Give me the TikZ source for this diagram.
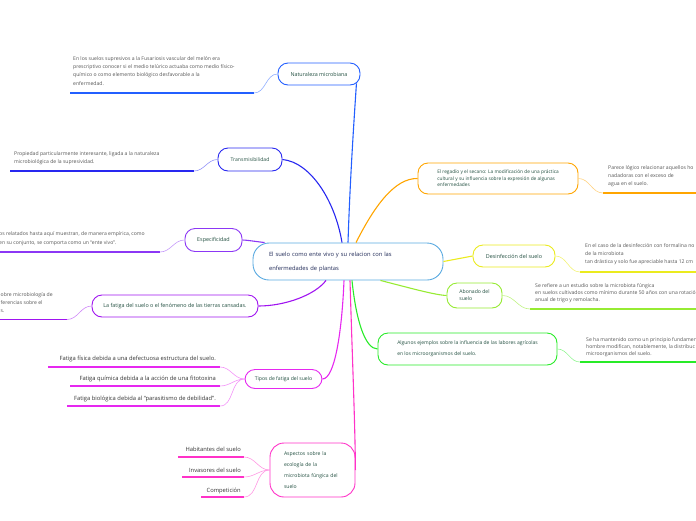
\documentclass[tikz,border=0pt]{standalone}
\usepackage{fontspec}
\setmainfont{Open Sans}
\usetikzlibrary{positioning, calc}
\definecolor{rootc}{RGB}{90,170,225}
\definecolor{natc}{RGB}{35,95,255}
\definecolor{trac}{RGB}{40,40,240}
\definecolor{espc}{RGB}{140,55,245}
\definecolor{fatc}{RGB}{160,20,240}
\definecolor{tipc}{RGB}{230,40,240}
\definecolor{aspc}{RGB}{255,50,200}
\definecolor{regc}{RGB}{255,165,0}
\definecolor{desc}{RGB}{235,235,30}
\definecolor{aboc}{RGB}{150,235,50}
\definecolor{algc}{RGB}{40,235,40}
\definecolor{labtext}{RGB}{35,80,65}
\definecolor{roottext}{RGB}{30,40,85}
\definecolor{notetext}{RGB}{85,85,85}
\definecolor{leaftext}{RGB}{50,50,50}

\begin{document}
\begin{tikzpicture}[x=1pt, y=-1pt,
    topic/.style={draw, line width=0.9pt, rounded corners=10pt, fill=white, text=labtext,
      font=\fontsize{5.1}{6.6}\selectfont, align=center, inner sep=2pt},
    note/.style={anchor=north west, inner sep=0pt, text=notetext, align=left,
      font=\fontsize{5.1}{8.4}\selectfont},
    leaf/.style={anchor=base east, inner sep=0pt, text=leaftext, font=\fontsize{5.8}{6}\selectfont},
    uline/.style={line width=1.5pt},
    link/.style={line width=1.1pt},
    twig/.style={line width=0.6pt}]
  \useasboundingbox (0,0) rectangle (696,520);
  \clip (0,0) rectangle (696,520);

  % central topic
  \node[topic, draw=rootc, minimum width=190pt, minimum height=37pt, rounded corners=16pt,
    text width=158pt, align=left, text=roottext, font=\fontsize{5.8}{14}\selectfont]
    (root) at (348,261.5) {El suelo como ente vivo y su relacion con las\\enfermedades de plantas};

  % left branches
  \node[topic, draw=natc, minimum width=82pt, minimum height=22pt, font=\fontsize{5.4}{6}\selectfont] (nat) at (319,74) {Naturaleza microbiana};
  \node[topic, draw=trac, minimum width=64pt, minimum height=23pt] (tra) at (250,159.5) {Transmisibilidad};
  \node[topic, draw=espc, minimum width=57pt, minimum height=23pt, font=\fontsize{5.4}{6}\selectfont] (esp) at (213.5,240) {Especificidad};
  \node[topic, draw=fatc, minimum width=166pt, minimum height=22pt, font=\fontsize{5.4}{6}\selectfont] (fat) at (175,306) {La fatiga del suelo o el fenómeno de las tierras cansadas.};
  \node[topic, draw=tipc, minimum width=77pt, minimum height=19pt] (tip) at (283.5,379) {Tipos de fatiga del suelo};
  \node[topic, draw=aspc, minimum width=85pt, minimum height=54pt, rounded corners=14pt,
    text width=57pt, align=left, font=\fontsize{5.1}{11}\selectfont]
    (asp) at (312.5,470) {Aspectos sobre la\\ecología de la\\microbiota fúngica del\\suelo};

  % right branches
  \node[topic, draw=regc, minimum width=160pt, minimum height=31pt, align=left,
    font=\fontsize{4.8}{6.6}\selectfont]
    (reg) at (498,178.5) {El regadío y el secano: La modificación de una práctica\\cultural y su influencia sobre la expresión de algunas\\enfermedades};
  \node[topic, draw=desc, minimum width=82pt, minimum height=22pt, font=\fontsize{5.4}{6}\selectfont] (des) at (514,256) {Desinfección del suelo};
  \node[topic, draw=aboc, minimum width=55pt, minimum height=25pt, align=left,
    font=\fontsize{5.1}{7}\selectfont] (abo) at (474.5,295.5) {Abonado del\\suelo};
  \node[topic, draw=algc, minimum width=179pt, minimum height=32pt, align=left,
    font=\fontsize{5}{11}\selectfont]
    (alg) at (467.5,349) {Algunos ejemplos sobre la influencia de las labores agrícolas\\en los microorganismos del suelo.};

  % notes
  \node[note] (natn) at (73,56) {En los suelos supresivos a la Fusariosis vascular del melón era\\prescriptivo conocer si el medio telúrico actuaba como medio físico-\\químico o como elemento biológico desfavorable a la\\enfermedad.};
  \node[note, font=\fontsize{5.1}{8}\selectfont] (tran) at (14,151) {Propiedad particularmente interesante, ligada a la naturaleza\\microbiológica de la supresividad.};
  \node[note, font=\fontsize{5.1}{9}\selectfont] (espn) at (-1,231) {os relatados hasta aquí muestran, de manera empírica, como\\en su conjunto, se comporta como un “ente vivo”.};
  \node[note] (fatn) at (0.5,292) {obre microbiología de\\ferencias sobre el\\s.};
  \node[note] (regn) at (608,165) {Parece lógico relacionar aquellos ho\\nadadoras con el exceso de\\agua en el suelo.};
  \node[note, font=\fontsize{5.1}{8}\selectfont] (desn) at (585,243) {En el caso de la desinfección con formalina no\\de la microbiota\\tan drástica y solo fue apreciable hasta 12 cm};
  \node[note, font=\fontsize{5.1}{7}\selectfont] (abon) at (535,283) {Se refiere a un estudio sobre la microbiota fúngica\\en suelos cultivados como mínimo durante 50 años con una rotació\\anual de trigo y remolacha.};
  \node[note, font=\fontsize{5.1}{7}\selectfont] (algn) at (586,337) {Se ha mantenido como un principio fundamen\\hombre modifican, notablemente, la distribuc\\microorganismos del suelo.};

  % leaves
  \node[leaf] (f1) at (216,360) {Fatiga física debida a una defectuosa estructura del suelo.};
  \node[leaf] (f2) at (216,380) {Fatiga química debida a la acción de una fitotoxina};
  \node[leaf] (f3) at (216,400) {Fatiga biológica debida al “parasitismo de debilidad”.};
  \node[leaf] (h1) at (241,451) {Habitantes del suelo};
  \node[leaf] (h2) at (241,472) {Invasores del suelo};
  \node[leaf] (h3) at (241,492) {Competición};

  % underlines
  \draw[uline, natc] (70,93) -- (254,93) coordinate (natl);
  \draw[uline, trac] (10,171) -- (194,171) coordinate (tral);
  \draw[uline, espc] (0,252) -- (160,252) coordinate (espl);
  \draw[uline, fatc] (0,319.5) -- (67,319.5) coordinate (fatl);
  \draw[uline, regc] (603,193) coordinate (regl) -- (700,193);
  \draw[uline, desc] (580,272) coordinate (desl) -- (700,272);
  \draw[uline, aboc] (530,309) coordinate (abol) -- (700,309);
  \draw[uline, algc] (580,362) coordinate (algl) -- (700,362);
  \draw[uline, tipc] (48,367) -- (220,367) coordinate (f1e);
  \draw[uline, tipc] (70,386) -- (220,386) coordinate (f2e);
  \draw[uline, tipc] (67,406) -- (220,406) coordinate (f3e);
  \draw[uline, aspc] (178,457) -- (244,457) coordinate (h1e);
  \draw[uline, aspc] (182,477) -- (244,477) coordinate (h2e);
  \draw[uline, aspc] (201,497) -- (244,497) coordinate (h3e);

  % links from the central topic
  \draw[link, natc] (root.north) .. controls (350,180) and (354,120) .. ($(nat.south east)+(-4,-2)$);
  \draw[link, trac] ($(root.north)+(-6,0)$) .. controls (335,200) and (310,162) .. (tra.east);
  \draw[link, espc] ($(root.north west)+(12,0)$) .. controls (252,241) and (246,240) .. (esp.east);
  \draw[link, fatc] ($(root.south)+(-22,0)$) .. controls (315,295) and (285,306) .. (fat.east);
  \draw[link, tipc] ($(root.south)+(-4,0)$) .. controls (342,330) and (335,379) .. (tip.east);
  \draw[link, aspc] ($(root.south)+(2,0)$) .. controls (352,350) and (355,420) .. (asp.east);
  \draw[link, regc] ($(root.north)+(8,0)$) .. controls (375,205) and (395,178) .. (reg.west);
  \draw[link, desc] (root.east) -- (des.west);
  \draw[link, aboc] ($(root.south east)+(-63,0)$) .. controls (410,288) and (435,295) .. (abo.west);
  \draw[link, algc] ($(root.south)+(4,0)$) .. controls (356,320) and (365,349) .. (alg.west);

  % links to notes and leaves
  \draw[twig, natc!50] (nat.west) to[out=180, in=0] (natl);
  \draw[twig, trac!50] (tra.west) to[out=180, in=0] (tral);
  \draw[twig, espc!50] (esp.west) to[out=180, in=0] (espl);
  \draw[twig, fatc!50] (fat.west) to[out=180, in=0] (fatl);
  \draw[twig, regc!50] (reg.east) to[out=0, in=180] (regl);
  \draw[twig, desc!60] (des.east) to[out=0, in=180] (desl);
  \draw[twig, aboc!60] (abo.east) to[out=0, in=180] (abol);
  \draw[twig, algc!50] (alg.east) to[out=0, in=180] (algl);
  \foreach \e in {f1e, f2e, f3e}
    \draw[twig, tipc!50] (tip.west) to[out=180, in=0] (\e);
  \foreach \e in {h1e, h2e, h3e}
    \draw[twig, aspc!50] (asp.west) to[out=180, in=0] (\e);
\end{tikzpicture}
\end{document}
